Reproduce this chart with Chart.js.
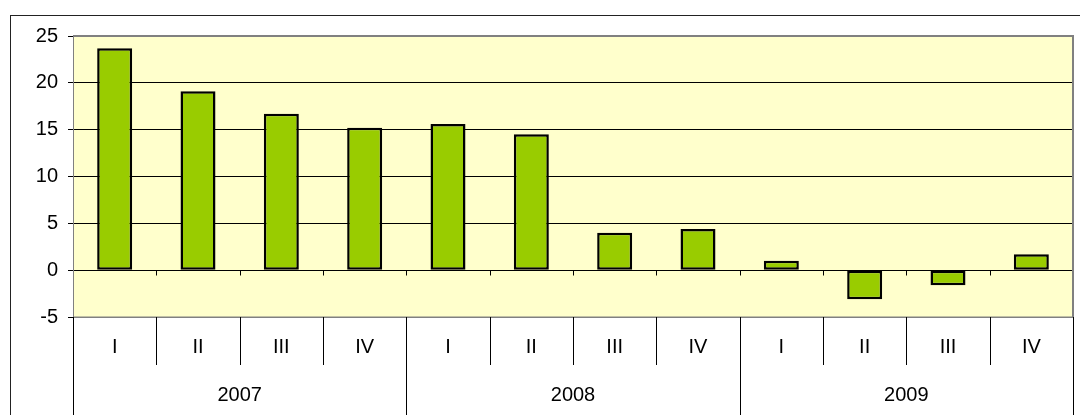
<!DOCTYPE html>
<html>
<head>
<meta charset="utf-8">
<script src="https://cdn.jsdelivr.net/npm/chart.js@4/dist/chart.umd.min.js"></script>
<style>
  html, body { margin: 0; padding: 0; background: #fff; }
  #wrap { position: relative; width: 1080px; height: 415px; overflow: hidden; }
  #frame { position: absolute; left: 10px; top: 15px; width: 1100px; height: 420px;
           border-left: 1px solid #222; border-top: 1px solid #222; }
  canvas { position: absolute; left: 0; top: 0; }
</style>
</head>
<body>
<div id="wrap">
  <div id="frame"></div>
  <canvas id="chart" width="1080" height="415"></canvas>
</div>
<script>
// === DANE ===
const categories = ['I', 'II', 'III', 'IV', 'I', 'II', 'III', 'IV', 'I', 'II', 'III', 'IV'];
const years = ['2007', '2008', '2009'];
const values = [23.7, 19.1, 16.7, 15.2, 15.6, 14.5, 4.0, 4.4, 1.0, -3.1, -1.6, 1.7];
const yMin = -5, yMax = 25, yStep = 5;

const FONT = 'Liberation Sans, Arial, sans-serif';

// tło, ramki i dwupoziomowa oś X
const plotDecor = {
    id: 'plotDecor',
    beforeDraw(chart) {
        const { ctx, chartArea: a } = chart;
        ctx.save();
        ctx.fillStyle = '#FFFFCC';
        ctx.fillRect(a.left, a.top, a.right - a.left, a.bottom - a.top);
        ctx.restore();
    },
    afterDraw(chart) {
        const { ctx, chartArea: a } = chart;
        const x = chart.scales.x, y = chart.scales.y;
        const half = (x.getPixelForValue(1) - x.getPixelForValue(0)) / 2;
        const zero = Math.round(y.getPixelForValue(0)) + 0.5;
        const rowBottom = a.bottom + 48;
        ctx.save();

        // ramka obszaru wykresu
        ctx.strokeStyle = '#808080';
        ctx.lineWidth = 2;
        ctx.beginPath();
        ctx.moveTo(a.left, a.top);
        ctx.lineTo(a.right, a.top);
        ctx.lineTo(a.right, a.bottom);
        ctx.stroke();
        ctx.lineWidth = 1;
        ctx.beginPath();
        ctx.moveTo(a.left + 0.5, a.top);
        ctx.lineTo(a.left + 0.5, a.bottom);
        ctx.lineTo(a.right, a.bottom);
        ctx.stroke();

        // kreski na osi zero
        ctx.strokeStyle = '#000';
        categories.forEach((c, i) => {
            if (i === 0) return;
            const px = Math.round(x.getPixelForValue(i) - half) + 0.5;
            ctx.beginPath();
            ctx.moveTo(px, zero);
            ctx.lineTo(px, zero + 5);
            ctx.stroke();
        });

        // separatory kwartałów i lat
        for (let i = 0; i <= categories.length; i++) {
            const px = Math.round(x.getPixelForValue(0) - half + i * 2 * half) + 0.5;
            const isYear = i % 4 === 0;
            ctx.beginPath();
            ctx.moveTo(px, a.bottom);
            ctx.lineTo(px, isYear ? chart.height : rowBottom);
            ctx.stroke();
        }

        // etykiety lat
        ctx.fillStyle = '#000';
        ctx.font = '20px ' + FONT;
        ctx.textAlign = 'center';
        ctx.textBaseline = 'middle';
        years.forEach((yr, k) => {
            const cx = (x.getPixelForValue(k * 4) + x.getPixelForValue(k * 4 + 3)) / 2;
            ctx.fillText(yr, cx, rowBottom + 30);
        });
        ctx.restore();
    }
};

new Chart(document.getElementById('chart'), {
    type: 'bar',
    data: {
        labels: categories,
        datasets: [{
            data: values,
            backgroundColor: '#99CC00',
            borderColor: '#000',
            borderWidth: 2.5,
            borderSkipped: false,
            categoryPercentage: 1,
            barPercentage: 0.42
        }]
    },
    options: {
        responsive: false,
        animation: false,
        layout: { padding: { top: 36, right: 7, left: 0, bottom: 0 } },
        plugins: { legend: { display: false }, tooltip: { enabled: false } },
        scales: {
            x: {
                grid: { display: false },
                border: { display: false },
                ticks: { color: '#000', font: { family: FONT, size: 20 }, padding: 10, maxRotation: 0, autoSkip: false },
                afterFit(scale) { scale.height = 98; }
            },
            y: {
                min: yMin, max: yMax,
                ticks: { stepSize: yStep, color: '#000', font: { family: FONT, size: 20 }, padding: 10 },
                grid: {
                    color: c => (c.tick && (c.tick.value === yMin || c.tick.value === yMax)) ? '#808080' : '#000',
                    tickColor: '#000',
                    tickLength: 5,
                    lineWidth: 1
                },
                border: { display: false },
                afterFit(scale) { scale.width = 73; }
            }
        }
    },
    plugins: [plotDecor]
});
</script>
</body>
</html>
